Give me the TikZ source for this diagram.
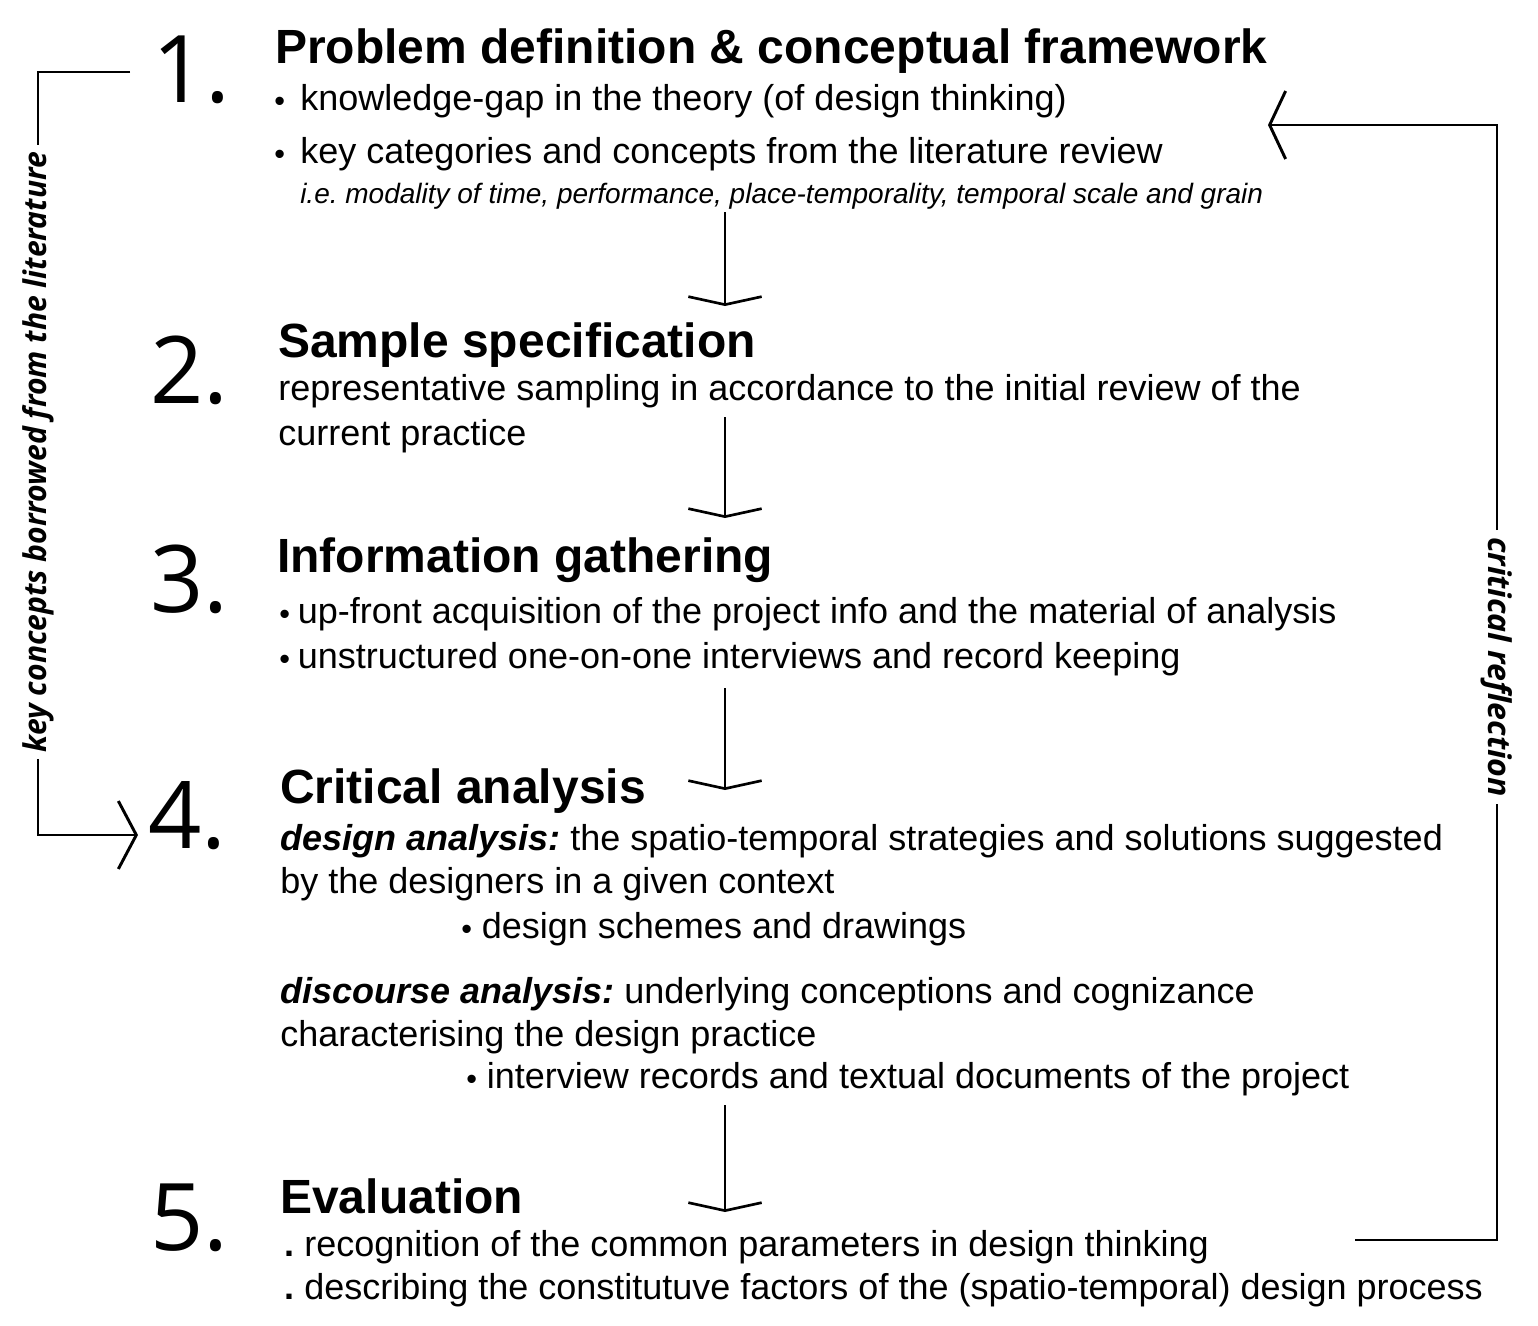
\documentclass[tikz,border=0pt]{standalone}
\usepackage{fontspec}
\setmainfont{Liberation Sans}
\newfontfamily\numfont{Open Sans}
\newfontfamily\labfont{Open Sans}
\usetikzlibrary{arrows.meta}
\frenchspacing
\newcommand\bul[1]{\makebox[#1][l]{\raisebox{-.05em}{\scalebox{.85}{•}}}}
\newcommand\dotb{\makebox[15pt][l]{\textbf{.}}}
\tikzset{
  heading/.style={anchor=base west, inner sep=0pt, font=\fontsize{36}{40}\selectfont\bfseries},
  body/.style={anchor=base west, inner sep=0pt, font=\fontsize{27}{30}\selectfont},
  note/.style={anchor=base west, inner sep=0pt, font=\fontsize{21}{24}\selectfont\itshape},
  num/.style={anchor=base west, inner sep=0pt, font=\fontsize{70}{80}\selectfont\numfont},
  flow/.style={line width=2pt, -{Straight Barb[length=6pt,width=55pt]}},
  bracket/.style={line width=2.2pt},
  sidelab/.style={inner sep=5pt, font=\labfont\bfseries\itshape},
}
\begin{document}
\begin{tikzpicture}[x=0.75pt,y=-0.75pt]
\useasboundingbox (0,0) rectangle (1538,1325);

% section 1
\node[num] (n1) at (152,102) {1.};
\node[heading] (h1) at (275,63) {Problem definition \& conceptual framework};
\node[body] (t1a) at (274,110) {\bul{19.5pt}knowledge-gap in the theory (of design thinking)};
\node[body] (t1b) at (274,163) {\bul{19.5pt}key categories and concepts from the literature review};
\node[note] (t1c) at (300,203) {i.e.\ modality of time, performance, place-temporality, temporal scale and grain};

% section 2
\node[num] (n2) at (150,403) {2.};
\node[heading] (h2) at (278,357) {Sample specification};
\node[body] (t2a) at (278,400) {representative sampling in accordance to the initial review of the};
\node[body] (t2b) at (278,445) {current practice};

% section 3
\node[num] (n3) at (150,612) {3.};
\node[heading] (h3) at (277,572) {Information gathering};
\node[body] (t3a) at (279,623) {\bul{14pt}up-front acquisition of the project info and the material of analysis};
\node[body] (t3b) at (279,668) {\bul{14pt}unstructured one-on-one interviews and record keeping};

% section 4
\node[num] (n4) at (148,848) {4.};
\node[heading] (h4) at (280,803) {Critical analysis};
\node[body] (t4a) at (280,850) {\textbf{\textit{design analysis:}} the spatio-temporal strategies and solutions suggested};
\node[body] (t4b) at (280,893) {by the designers in a given context};
\node[body] (t4c) at (461,938) {\bul{15.5pt}design schemes and drawings};
\node[body] (t4d) at (280,1003) {\textbf{\textit{discourse analysis:}} underlying conceptions and cognizance};
\node[body] (t4e) at (280,1046) {characterising the design practice};
\node[body] (t4f) at (466,1088) {\bul{15.5pt}interview records and textual documents of the project};

% section 5
\node[num] (n5) at (150,1250) {5.};
\node[heading] (h5) at (280,1213) {Evaluation};
\node[body] (t5a) at (284,1256) {\dotb recognition of the common parameters in design thinking};
\node[body] (t5b) at (284,1299) {\dotb describing the constitutuve factors of the (spatio-temporal) design process};

% flow arrows
\coordinate (a1s) at (725,212); \coordinate (a1e) at (725,306);
\coordinate (a2s) at (725,417); \coordinate (a2e) at (725,518);
\coordinate (a3s) at (725,688); \coordinate (a3e) at (725,790);
\coordinate (a4s) at (725,1105); \coordinate (a4e) at (725,1212);
\draw[flow] (a1s) -- (a1e);
\draw[flow] (a2s) -- (a2e);
\draw[flow] (a3s) -- (a3e);
\draw[flow] (a4s) -- (a4e);

% left bracket
\node[sidelab, rotate=90] (K) at (38,452) {\resizebox{450pt}{18pt}{key concepts borrowed from the literature}};
\coordinate (l1) at (130,72);
\coordinate (k4) at (138,835);
\draw[bracket] (l1) -| (K.east);
\draw[bracket, -{Straight Barb[length=13.5pt,width=51pt]}] (K.west) |- (k4);

% right bracket
\node[sidelab, rotate=-90] (C) at (1497,667) {\resizebox{195pt}{18pt}{critical reflection}};
\coordinate (r1) at (1355,1240);
\coordinate (r0) at (1268,125);
\draw[bracket] (r1) -| (C.east);
\draw[bracket, -{Straight Barb[length=12pt,width=51pt]}] (C.west) |- (r0);
\end{tikzpicture}
\end{document}
